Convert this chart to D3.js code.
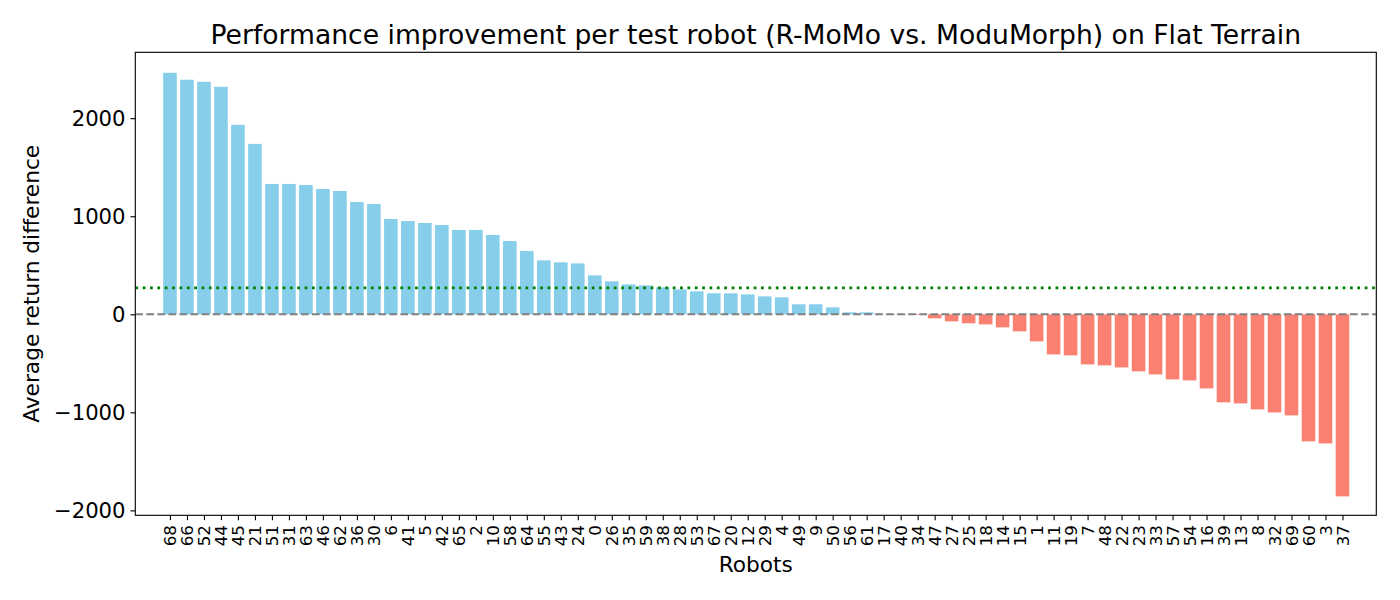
<!DOCTYPE html>
<html>
<head>
<meta charset="utf-8">
<script src="https://cdn.jsdelivr.net/npm/d3@7"></script>
<style>
  html, body { margin: 0; padding: 0; background: #fff; }
  svg { display: block; font-family: "DejaVu Sans", sans-serif; }
</style>
</head>
<body>
<svg id="chart" width="1400" height="600"></svg>
<script>
// Robot ids in plotted (sorted) order
const robots = [68,66,52,44,45,21,51,31,63,46,62,36,30,6,41,5,42,65,2,10,58,64,55,43,24,0,26,35,59,38,28,53,67,20,12,29,4,49,9,50,56,61,17,40,34,47,27,25,18,14,15,1,11,19,7,48,22,23,33,57,54,16,39,13,8,32,69,60,3,37];
// Average return difference (R-MoMo minus ModuMorph)
const values = [2463,2392,2371,2320,1932,1738,1329,1329,1319,1278,1258,1145,1125,972,951,931,911,860,860,809,747,645,
                550,530,519,397,336,305,295,275,254,234,214,214,203,183,173,102,102,71,20,20,2,-3,
                -7,-41,-72,-92,-103,-133,-174,-276,-409,-419,-511,-521,-542,-582,-613,-664,-674,-756,-898,-909,-970,-1001,-1031,-1296,-1317,-1857];
const yTicks = [-2000,-1000,0,1000,2000];
const titleText = "Performance improvement per test robot (R-MoMo vs. ModuMorph) on Flat Terrain";
const xLabel = "Robots";
const yLabel = "Average return difference";

const svg = d3.select("#chart");
const L = 135.3, R = 1376.3, T = 52.3, B = 515.3;
const PT = 1.389; // px per point

const idx = d3.range(values.length);
const x = d3.scaleLinear().domain([-2.04, 70.99]).range([L, R]);
const y = d3.scaleLinear().domain([-2050, 2672]).range([B, T]);
const barW = x(0.8) - x(0);

svg.append("rect").attr("x",0).attr("y",0).attr("width",1400).attr("height",600).attr("fill","#fff");

// bars
svg.append("g").selectAll("rect").data(idx).join("rect")
  .attr("x", i => x(i) - barW/2)
  .attr("width", barW)
  .attr("y", i => y(Math.max(0, values[i])))
  .attr("height", i => Math.abs(y(values[i]) - y(0)))
  .attr("fill", i => values[i] >= 0 ? "#87CEEB" : "#FA8072");

// zero line
svg.append("line")
  .attr("x1", L).attr("x2", R).attr("y1", y(0)).attr("y2", y(0))
  .attr("stroke", "#808080").attr("stroke-width", 1.5*PT)
  .attr("stroke-dasharray", `${3.7*1.5*PT} ${1.6*1.5*PT}`);

// mean line
const meanVal = d3.mean(values);
svg.append("line")
  .attr("x1", L).attr("x2", R).attr("y1", y(meanVal)).attr("y2", y(meanVal))
  .attr("stroke", "#008000").attr("stroke-width", 2*PT)
  .attr("stroke-dasharray", `${1*2*PT} ${1.65*2*PT}`);

// axes
const tickLen = 3.5*PT, tickPad = 3.5*PT;
const yAxis = svg.append("g").attr("transform", `translate(${L},0)`)
  .call(d3.axisLeft(y).tickValues(yTicks).tickSize(tickLen).tickPadding(tickPad)
    .tickFormat(d => d < 0 ? "\u2212" + Math.abs(d) : String(d)));
yAxis.select(".domain").remove();
yAxis.selectAll("line").attr("stroke","#000").attr("stroke-width",0.8*PT);
yAxis.selectAll("text").attr("font-size", 21.2).attr("font-family","DejaVu Sans").attr("fill","#000").attr("dy","0.35em");

const xAxis = svg.append("g").attr("transform", `translate(0,${B})`)
  .call(d3.axisBottom(x).tickValues(idx).tickSize(tickLen).tickPadding(tickPad)
    .tickFormat(i => String(robots[i])));
xAxis.select(".domain").remove();
xAxis.selectAll("line").attr("stroke","#000").attr("stroke-width",0.8*PT);
xAxis.selectAll("text")
  .attr("font-size", 16.7).attr("font-family","DejaVu Sans").attr("fill","#000")
  .attr("text-anchor","end").attr("dy","0.35em")
  .attr("transform", `translate(0,${tickLen + tickPad}) rotate(-90)`)
  .attr("x", 0).attr("y", 0);

// frame
svg.append("rect").attr("x", L).attr("y", T).attr("width", R-L).attr("height", B-T)
  .attr("fill","none").attr("stroke","#000").attr("stroke-width",0.8*PT);

// labels
svg.append("text").attr("x", (L+R)/2).attr("y", 43.5).attr("text-anchor","middle")
  .attr("font-size", 26.6).attr("fill","#000").text(titleText);
svg.append("text").attr("x", (L+R)/2).attr("y", 571.7).attr("text-anchor","middle")
  .attr("font-size", 21.7).attr("fill","#000").text(xLabel);
svg.append("text").attr("transform", `translate(38.8,${(T+B)/2}) rotate(-90)`)
  .attr("text-anchor","middle").attr("font-size", 21.7).attr("fill","#000").text(yLabel);
</script>
</body>
</html>
